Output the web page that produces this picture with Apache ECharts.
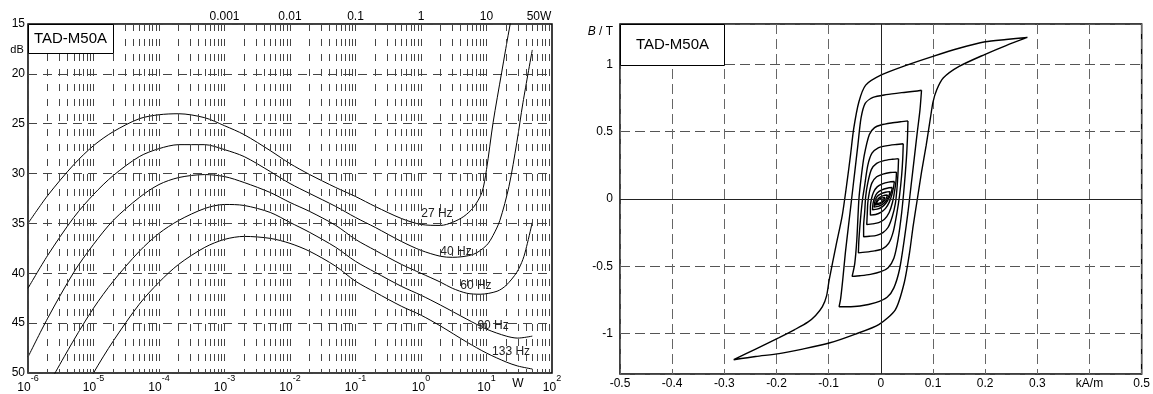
<!DOCTYPE html>
<html>
<head>
<meta charset="utf-8">
<script src="https://cdn.jsdelivr.net/npm/echarts@6.0.0/dist/echarts.min.js"></script>
<style>
  html, body { margin: 0; padding: 0; background: #fff; }
  #main { width: 1153px; height: 394px; }
</style>
</head>
<body>
<div id="main"></div>
<script>
// left panel: distortion level vs power, [W, dB]
const hz27 = [[1e-6,35.0],[2e-6,32.2],[5e-6,29.1],[1e-5,27.2],[2e-5,25.8],[5e-5,24.5],[1e-4,24.1],[2e-4,24.0],[5e-4,24.4],[1e-3,25.2],[2e-3,26.1],[5e-3,27.7],[0.01,29.0],[0.02,30.1],[0.05,31.4],[0.1,32.3],[0.2,33.3],[0.5,34.5],[1,35.1],[2,35.2],[3,34.9],[4.5,34.3],[6.3,33.4],[8.5,31.9],[10,29.6],[12.6,24.9],[17,19.9],[23,15.0],[25,14.0]];
const hz40 = [[1e-6,41.5],[2e-6,38.2],[5e-6,34.4],[1e-5,32.1],[2e-5,30.2],[5e-5,28.3],[1e-4,27.5],[2e-4,27.1],[5e-4,27.1],[1e-3,27.6],[2e-3,28.3],[5e-3,29.8],[0.01,31.0],[0.02,32.0],[0.05,33.3],[0.1,34.4],[0.2,35.4],[0.5,36.8],[1,37.7],[2,38.3],[3,38.4],[6.3,38.1],[10,37.2],[12.6,36.2],[16,34.7],[22,31.3],[29,26.9],[36,22.9],[50,17.6]];
const hz60 = [[1e-6,48.4],[2e-6,44.5],[5e-6,39.9],[1e-5,37.1],[2e-5,34.7],[5e-5,32.4],[1e-4,31.1],[2e-4,30.4],[5e-4,30.1],[1e-3,30.3],[2e-3,30.9],[5e-3,31.9],[0.01,32.9],[0.02,33.8],[0.05,35.2],[0.1,36.6],[0.2,37.7],[0.5,39.1],[1,40.0],[2,40.9],[3,41.5],[5,42.0],[8,42.1],[14.5,41.8],[20,41.2],[29,39.9],[36,38.6],[41,37.3],[50,34.9]];
const hz90 = [[2e-6,51.3],[5e-6,46.7],[1e-5,43.5],[2e-5,40.8],[5e-5,37.8],[1e-4,36.0],[2e-4,34.7],[5e-4,33.5],[1e-3,33.1],[2e-3,33.2],[5e-3,33.9],[0.01,34.9],[0.02,35.9],[0.05,37.4],[0.1,38.8],[0.2,39.9],[0.5,41.3],[1,42.2],[2,43.2],[5,44.6],[10,45.6],[20,46.3],[30,46.5],[50,46.3]];
const hz133 = [[5e-6,53.7],[1e-5,50.0],[2e-5,46.8],[5e-5,43.1],[1e-4,40.9],[2e-4,39.1],[5e-4,37.4],[1e-3,36.6],[2e-3,36.3],[5e-3,36.5],[0.01,37.0],[0.02,37.8],[0.05,39.3],[0.1,40.8],[0.2,41.9],[0.5,43.3],[1,44.2],[2,45.3],[5,46.9],[10,48.0],[20,48.9],[30,49.3],[50,49.6]];
const curveNames = ['27 Hz', '40 Hz', '60 Hz', '90 Hz', '133 Hz'];
const curveLabelAt = [[1.75, 34.0], [3.42, 37.8], [6.9, 41.2], [12.6, 45.3], [23.7, 47.9]];

// right panel: B-H loops, [kA/m, T]
const loop1 = [[0.281,1.2],[0.24,1.185],[0.2,1.168],[0.15,1.12],[0.1,1.06],[0.05,0.995],[0.0,0.92],[-0.029,0.846],[-0.042,0.722],[-0.052,0.522],[-0.058,0.33],[-0.064,0.149],[-0.074,-0.124],[-0.086,-0.348],[-0.099,-0.6],[-0.104,-0.72],[-0.112,-0.8],[-0.125,-0.865],[-0.14,-0.915],[-0.165,-0.97],[-0.195,-1.03],[-0.24,-1.115],[-0.282,-1.194],
  [-0.24,-1.17],[-0.195,-1.149],[-0.15,-1.115],[-0.099,-1.07],[-0.05,-1.005],[-0.004,-0.933],[0.028,-0.821],[0.045,-0.62],[0.055,-0.4],[0.062,-0.2],[0.07,0.0],[0.078,0.2],[0.087,0.4],[0.095,0.6],[0.1,0.72],[0.107,0.81],[0.12,0.9],[0.15,0.985],[0.2,1.075],[0.24,1.14],[0.281,1.2]];
const loop2 = [[0.078,0.808],[0.065,0.8],[0.04,0.79],[0.01,0.775],[-0.015,0.755],[-0.03,0.71],[-0.038,0.6],[-0.044,0.4],[-0.05,0.2],[-0.056,0.0],[-0.062,-0.2],[-0.068,-0.4],[-0.073,-0.6],[-0.077,-0.74],[-0.08,-0.8],
  [-0.065,-0.8],[-0.04,-0.795],[-0.01,-0.77],[0.012,-0.73],[0.025,-0.66],[0.036,-0.52],[0.045,-0.3],[0.052,-0.1],[0.058,0.1],[0.064,0.3],[0.07,0.5],[0.075,0.66],[0.078,0.808]];
const loop3 = [[0.052,0.58],[0.04,0.575],[0.02,0.565],[0.0,0.55],[-0.012,0.53],[-0.022,0.48],[-0.032,0.32],[-0.038,0.15],[-0.042,0.0],[-0.046,-0.3],[-0.05,-0.48],[-0.055,-0.575],
  [-0.04,-0.57],[-0.02,-0.56],[0.0,-0.54],[0.014,-0.51],[0.025,-0.44],[0.033,-0.3],[0.04,-0.1],[0.045,0.1],[0.049,0.3],[0.051,0.45],[0.052,0.58]];
const loop4 = [[0.043,0.41],[0.03,0.405],[0.01,0.395],[-0.005,0.38],[-0.017,0.34],[-0.025,0.25],[-0.031,0.1],[-0.035,0.0],[-0.039,-0.15],[-0.042,-0.3],[-0.043,-0.4],
  [-0.03,-0.395],[-0.012,-0.385],[0.003,-0.37],[0.015,-0.33],[0.024,-0.24],[0.031,-0.1],[0.036,0.03],[0.04,0.18],[0.042,0.3],[0.043,0.41]];
const loop5 = [[0.034,0.3],[0.022,0.295],[0.006,0.285],[-0.008,0.265],[-0.018,0.22],[-0.025,0.12],[-0.029,0.02],[-0.031,-0.1],[-0.033,-0.2],[-0.033,-0.28],
  [-0.022,-0.277],[-0.008,-0.27],[0.004,-0.25],[0.014,-0.21],[0.022,-0.13],[0.028,-0.03],[0.031,0.08],[0.033,0.2],[0.034,0.3]];
const loop6 = [[0.03,0.2],[0.018,0.197],[0.004,0.185],[-0.008,0.165],[-0.017,0.12],[-0.022,0.05],[-0.025,-0.03],[-0.026,-0.11],[-0.027,-0.19],
  [-0.016,-0.185],[-0.004,-0.175],[0.007,-0.15],[0.016,-0.1],[0.022,-0.03],[0.026,0.05],[0.029,0.13],[0.03,0.2]];
const loop7 = [[0.026,0.13],[0.015,0.125],[0.003,0.112],[-0.007,0.09],[-0.014,0.05],[-0.018,0.0],[-0.02,-0.06],[-0.02,-0.12],
  [-0.01,-0.115],[0.0,-0.1],[0.009,-0.07],[0.016,-0.025],[0.021,0.03],[0.024,0.08],[0.026,0.13]];
const loop8 = [[0.022,0.085],[0.012,0.08],[0.002,0.068],[-0.007,0.045],[-0.012,0.01],[-0.015,-0.035],[-0.016,-0.08],
  [-0.007,-0.075],[0.002,-0.06],[0.01,-0.03],[0.016,0.01],[0.02,0.05],[0.022,0.085]];
const loop9 = [[0.018,0.055],[0.009,0.05],[0.0,0.038],[-0.007,0.018],[-0.011,-0.012],[-0.013,-0.06],
  [-0.005,-0.055],[0.003,-0.04],[0.01,-0.015],[0.015,0.02],[0.018,0.055]];
const loop10 = [[0.013,0.03],[0.005,0.025],[-0.002,0.012],[-0.007,-0.008],[-0.011,-0.045],
  [-0.004,-0.04],[0.003,-0.025],[0.009,-0.005],[0.013,0.03]];
const loop11 = [[0.008,0.012],[0.001,0.006],[-0.005,-0.01],[-0.009,-0.035],
  [-0.003,-0.03],[0.003,-0.018],[0.008,0.012]];

const curves = [hz27, hz40, hz60, hz90, hz133];
const loops = [loop1, loop2, loop3, loop4, loop5, loop6, loop7, loop8, loop9, loop10, loop11];

const font = 'Liberation Sans, Arial, sans-serif';
const chart = echarts.init(document.getElementById('main'));

// dashed verticals at 1..9 of each decade
const decades = [-6, -5, -4, -3, -2, -1, 0, 1];
const mantissas = [1, 2, 3, 4, 5, 6, 7, 8, 9];
const logGrid = [];
decades.forEach(d => mantissas.forEach(m => logGrid.push({ xAxis: m * Math.pow(10, d) })));

const lblStyle = { color: '#000', fontSize: 12, fontFamily: font };

const series = [];
series.push({
  type: 'line', xAxisIndex: 0, yAxisIndex: 0, data: [], silent: true,
  markLine: {
    silent: true, precision: 12, symbol: ['none', 'none'], label: { show: false },
    lineStyle: { color: '#444', width: 1, type: [7, 8] },
    data: logGrid
  }
});
curves.forEach((c, i) => {
  series.push({
    type: 'line', name: curveNames[i], xAxisIndex: 0, yAxisIndex: 0,
    data: c, showSymbol: false, smooth: 0.3, clip: true,
    lineStyle: { color: '#000', width: 1 },
    markPoint: {
      symbol: 'circle', symbolSize: 1, itemStyle: { color: 'rgba(0,0,0,0)' },
      label: Object.assign({ show: true, position: 'inside', formatter: curveNames[i] }, lblStyle, { color: '#222' }),
      data: [{ coord: curveLabelAt[i] }]
    }
  });
});
loops.forEach((l, i) => {
  const s = {
    type: 'line', xAxisIndex: 2, yAxisIndex: 1, data: l, showSymbol: false, smooth: 0.25,
    lineStyle: { color: '#000', width: 1.4 }
  };
  if (i === 0) {
    s.markLine = {
      silent: true, symbol: ['none', 'none'], label: { show: false },
      lineStyle: { color: '#222', width: 1, type: 'solid' },
      data: [{ xAxis: 0 }, { yAxis: 0 }]
    };
  }
  series.push(s);
});

chart.setOption({
  animation: false,
  backgroundColor: '#fff',
  textStyle: { fontFamily: font },
  grid: [
    { left: 28, top: 24, width: 524, height: 350, show: true, borderColor: '#000', borderWidth: 1.5 },
    { left: 620, top: 24, width: 524, height: 350, show: true, borderColor: '#000', borderWidth: 1.5 }
  ],
  xAxis: [
    {
      gridIndex: 0, type: 'log', logBase: 10, min: 1e-6, max: 100, position: 'bottom',
      axisLine: { show: false }, axisTick: { show: false }, splitLine: { show: false },
      axisLabel: {
        margin: 1,
        formatter: v => '{b|10}{s|' + Math.round(Math.log10(v)) + '}',
        rich: {
          b: { fontSize: 12, fontFamily: font, color: '#000', lineHeight: 20, verticalAlign: 'bottom' },
          s: { fontSize: 9, fontFamily: font, color: '#000', lineHeight: 10, verticalAlign: 'top' }
        }
      }
    },
    {
      gridIndex: 0, type: 'log', logBase: 10, min: 1e-6, max: 100, position: 'top',
      axisLine: { show: false }, axisTick: { show: false }, splitLine: { show: false },
      axisLabel: Object.assign({
        margin: 1,
        formatter: v => {
          const e = Math.round(Math.log10(v));
          if (e < -3 || e > 1) return '';
          return e < 0 ? Math.pow(10, e).toFixed(-e) : String(Math.pow(10, e));
        }
      }, lblStyle)
    },
    {
      gridIndex: 1, type: 'value', min: -0.5, max: 0.5, interval: 0.1,
      axisLine: { show: false }, axisTick: { show: false },
      splitLine: { show: true, lineStyle: { color: '#666', width: 1, type: [10, 5] } },
      axisLabel: Object.assign({
        margin: 4,
        formatter: v => Math.abs(v - 0.4) < 1e-9 ? 'kA/m' : String(+v.toFixed(1))
      }, lblStyle)
    }
  ],
  yAxis: [
    {
      gridIndex: 0, type: 'value', inverse: true, min: 15, max: 50, interval: 5,
      axisLine: { show: false }, axisTick: { show: false },
      splitLine: { show: true, lineStyle: { color: '#444', width: 1, type: [9, 6] } },
      axisLabel: Object.assign({ margin: 3 }, lblStyle)
    },
    {
      gridIndex: 1, type: 'value', min: -1.3, max: 1.3,
      axisLine: { show: false }, axisTick: { show: false },
      splitLine: { show: true, lineStyle: { color: '#555', width: 1, type: [10, 5] } },
      axisLabel: Object.assign({
        margin: 7, showMinLabel: false, showMaxLabel: false,
        formatter: v => String(+v.toFixed(2))
      }, lblStyle)
    }
  ],
  graphic: [
    { type: 'rect', z: 10, shape: { x: 28.5, y: 24.5, width: 85, height: 29 }, style: { fill: '#fff', stroke: '#000', lineWidth: 1 } },
    { type: 'text', z: 11, x: 70.5, y: 39, style: { text: 'TAD-M50A', font: '15px ' + font, fill: '#000', textAlign: 'center', textVerticalAlign: 'middle' } },
    { type: 'rect', z: 10, shape: { x: 620.5, y: 24.5, width: 104, height: 41 }, style: { fill: '#fff', stroke: '#000', lineWidth: 1 } },
    { type: 'text', z: 11, x: 672.5, y: 45, style: { text: 'TAD-M50A', font: '15px ' + font, fill: '#000', textAlign: 'center', textVerticalAlign: 'middle' } },
    { type: 'text', z: 11, x: 17, y: 50, style: { text: 'dB', font: '11px ' + font, fill: '#000', textAlign: 'center', textVerticalAlign: 'middle' } },
    { type: 'text', z: 11, x: 518, y: 384, style: { text: 'W', font: '12px ' + font, fill: '#000', textAlign: 'center', textVerticalAlign: 'middle' } },
    { type: 'text', z: 11, x: 539, y: 17, style: { text: '50W', font: '12px ' + font, fill: '#000', textAlign: 'center', textVerticalAlign: 'middle' } },
    { type: 'text', z: 11, x: 613, y: 32, style: { text: '{i|B} / T', font: '12px ' + font, fill: '#000', textAlign: 'right', textVerticalAlign: 'middle', rich: { i: { fontStyle: 'italic', fontSize: 12, fontFamily: font } } } }
  ],
  series: series
});
</script>
</body>
</html>
